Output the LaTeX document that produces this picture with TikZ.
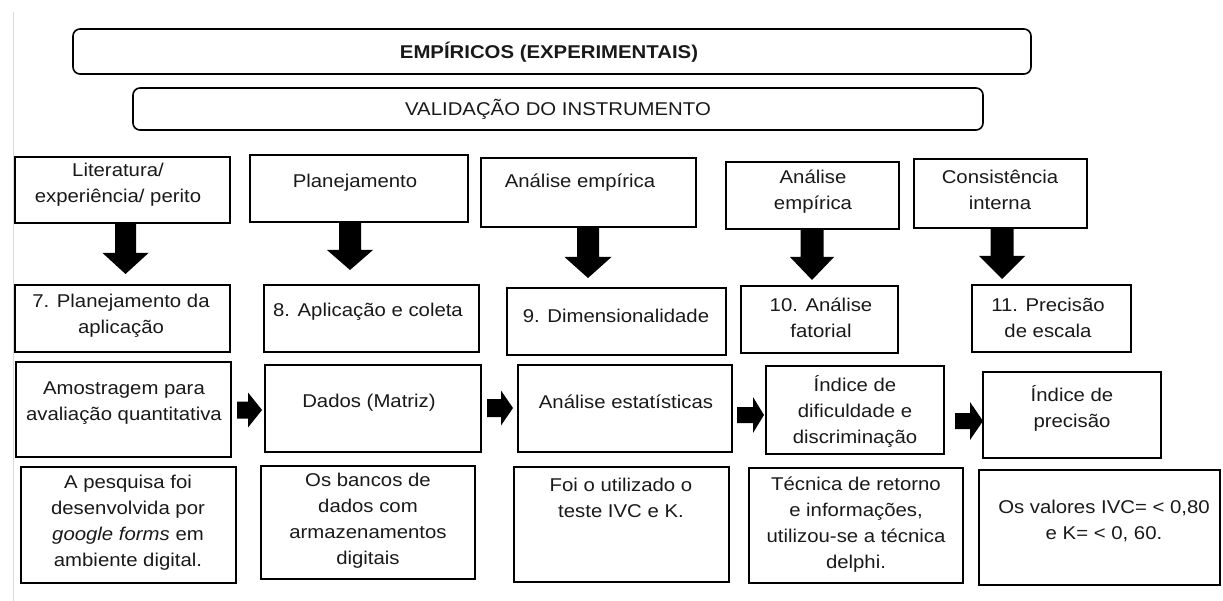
\documentclass[tikz,border=0pt]{standalone}
\usepackage{fontspec}
\setmainfont{Liberation Sans}[FakeStretch=1.1]
\usetikzlibrary{calc,fit}
\tikzset{
  box/.style={draw=black, line width=2pt, inner sep=0pt},
  rbox/.style={draw=black, line width=1.6pt, rounded corners=7pt, inner sep=0pt},
  txt/.style={align=center, font=\fontsize{18.5}{26}\selectfont, inner sep=0pt, text=black!90},
  blk/.style={fill=black},
  edgeline/.style={draw=black!15, line width=1pt}
}
\newcommand\blockdown[6]{% x, ytop, yhead, ytip, shaft half, head half
  \fill[blk] (#1-#5,#2) -- (#1-#5,#3) -- (#1-#6,#3) -- (#1,#4) -- (#1+#6,#3) -- (#1+#5,#3) -- (#1+#5,#2) -- cycle;}
\newcommand\blockright[6]{% x0, xhead, xtip, yc, shaft half, head half
  \fill[blk] (#1,#4-#5) -- (#2,#4-#5) -- (#2,#4-#6) -- (#3,#4) -- (#2,#4+#6) -- (#2,#4+#5) -- (#1,#4+#5) -- cycle;}
\begin{document}
\begin{tikzpicture}[x=1pt,y=-1pt]
\useasboundingbox (0,0) rectangle (1223,601);
\coordinate (g1) at (13,12);
\coordinate (g2) at (13,601);
\draw[edgeline] (g1) -- (g2);

% headers
\node[rbox, fit={(73,29) (1031,74)}] (emp) {};
\node[txt] (empt) at (549,52) {\textbf{EMPÍRICOS (EXPERIMENTAIS)}};
\node[rbox, fit={(133,88) (983,130)}] (val) {};
\node[txt] (valt) at (558,109) {VALIDAÇÃO DO INSTRUMENTO};

% row A
\node[box, fit={(15,157) (230,223)}] (a1) {};
\node[txt] (a1t) at (118,185) {Literatura/\\experiência/ perito};
\node[box, fit={(250,155) (468,222)}] (a2) {};
\node[txt] (a2t) at (355,183) {Planejamento};
\node[box, fit={(481,158) (696,227)}] (a3) {};
\node[txt] (a3t) at (580,183) {Análise empírica};
\node[box, fit={(726,162) (899,229)}] (a4) {};
\node[txt] (a4t) at (813,192) {Análise\\empírica};
\node[box, fit={(914,159) (1087,228)}] (a5) {};
\node[txt] (a5t) at (1000,190) {Consistência\\interna};

% row B
\node[box, fit={(15,285) (230,352)}] (b1) {};
\node[txt] (b1t) at (121,316) {7. Planejamento da\\aplicação};
\node[box, fit={(264,285) (479,352)}] (b2) {};
\node[txt] (b2t) at (368,312) {8. Aplicação e coleta};
\node[box, fit={(507,288) (726,355)}] (b3) {};
\node[txt] (b3t) at (616,316) {9. Dimensionalidade};
\node[box, fit={(741,286) (898,353)}] (b4) {};
\node[txt] (b4t) at (821,318) {10. Análise\\fatorial};
\node[box, fit={(972,285) (1131,352)}] (b5) {};
\node[txt] (b5t) at (1048,318) {11. Precisão\\de escala};

% row C
\node[box, fit={(16,362) (231,457)}] (c1) {};
\node[txt] (c1t) at (124,403) {Amostragem para\\avaliação quantitativa};
\node[box, fit={(265,365) (481,452)}] (c2) {};
\node[txt] (c2t) at (369,403) {Dados (Matriz)};
\node[box, fit={(518,365) (732,452)}] (c3) {};
\node[txt] (c3t) at (626,402) {Análise estatísticas};
\node[box, fit={(766,366) (944,454)}] (c4) {};
\node[txt] (c4t) at (855,411) {Índice de\\dificuldade e\\discriminação};
\node[box, fit={(983,372) (1161,458)}] (c5) {};
\node[txt] (c5t) at (1072,408) {Índice de\\precisão};

% row D
\node[box, fit={(21,467) (236,583)}] (d1) {};
\node[txt] (d1t) at (128,523) {A pesquisa foi\\desenvolvida por\\\textit{google forms} em\\ambiente digital.};
\node[box, fit={(261,466) (475,579)}] (d2) {};
\node[txt] (d2t) at (368,521) {Os bancos de\\dados com\\armazenamentos\\digitais};
\node[box, fit={(514,467) (729,582)}] (d3) {};
\node[txt] (d3t) at (621,498) {Foi o utilizado o\\teste IVC e K.};
\node[box, fit={(749,468) (963,583)}] (d4) {};
\node[txt] (d4t) at (856,525) {Técnica de retorno\\e informações,\\utilizou-se a técnica\\delphi.};
\node[box, fit={(979,470) (1220,585)}] (d5) {};
\node[txt] (d5t) at (1104,521) {Os valores IVC= < 0,80\\e K= < 0, 60.};

% down block arrows
\blockdown{125.5}{223}{253}{274}{10.5}{23}
\blockdown{350}{222}{250}{270}{11}{23}
\blockdown{588}{227}{257}{278}{11}{23.5}
\blockdown{812}{229}{257}{280}{11.5}{22}
\blockdown{1002}{228}{256}{279}{11.5}{23}

% right block arrows
\blockright{237}{248}{262}{410}{8.5}{17.5}
\blockright{487}{501}{513}{408}{9}{17.5}
\blockright{737}{753}{764}{415}{8}{18}
\blockright{955}{970}{983}{421}{8}{19}
\end{tikzpicture}
\end{document}
